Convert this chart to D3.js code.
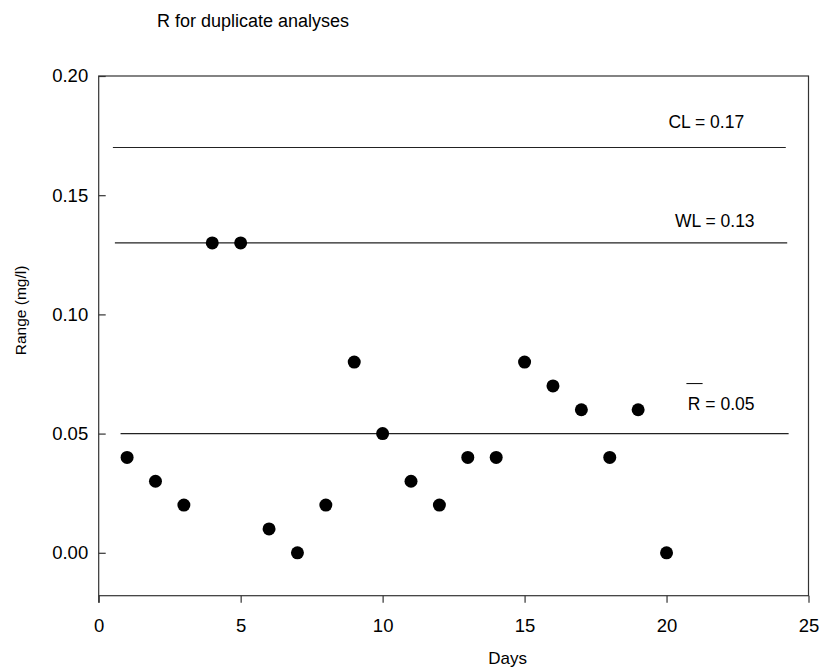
<!DOCTYPE html>
<html>
<head>
<meta charset="utf-8">
<script src="https://cdn.jsdelivr.net/npm/d3@7"></script>
<style>
  body { margin: 0; background: #fff; }
  svg { display: block; font-family: "Liberation Sans", Arial, sans-serif; }
</style>
</head>
<body>
<div id="chart"></div>
<script>
// Data
const days = [1, 2, 3, 4, 5, 6, 7, 8, 9, 10, 11, 12, 13, 14, 15, 16, 17, 18, 19, 20];
const ranges = [0.04, 0.03, 0.02, 0.13, 0.13, 0.01, 0.00, 0.02, 0.08, 0.05,
                0.03, 0.02, 0.04, 0.04, 0.08, 0.07, 0.06, 0.04, 0.06, 0.00];

// Control lines (name, value, x-extent in days)
const limitNames = ['CL', 'WL', 'R'];
const limitValues = [0.17, 0.13, 0.05];
const limitFrom = [0.5, 0.57, 0.77];
const limitTo = [24.2, 24.25, 24.3];

const xTicks = [0, 5, 10, 15, 20, 25];
const yTicks = [0.00, 0.05, 0.10, 0.15, 0.20];

const width = 820, height = 667;
const margin = { top: 76, right: 11.5, bottom: 71.3, left: 98.7 };

const svg = d3.select('#chart')
    .append('svg')
    .attr('width', width)
    .attr('height', height);

const x = d3.scaleLinear()
    .domain([0, 25])
    .range([margin.left, width - margin.right]);

const y = d3.scaleLinear()
    .domain([-0.018, 0.20])
    .range([height - margin.bottom, margin.top]);

const axisColor = '#333';

// Frame
svg.append('rect')
    .attr('x', x(0))
    .attr('y', y(0.20))
    .attr('width', x(25) - x(0))
    .attr('height', y(-0.018) - y(0.20))
    .attr('fill', 'none')
    .attr('stroke', axisColor)
    .attr('stroke-width', 1.2);

// X axis (ticks outward)
const xAxis = svg.append('g')
    .attr('transform', `translate(0,${y(-0.018)})`)
    .call(d3.axisBottom(x).tickValues(xTicks).tickFormat(d3.format('d')).tickSize(7).tickPadding(16));
xAxis.select('.domain').remove();
xAxis.selectAll('line').attr('stroke', axisColor).attr('stroke-width', 1.2);
xAxis.selectAll('text').attr('font-size', 18.5).attr('fill', '#000')
    .attr('font-family', '"Liberation Sans", Arial, sans-serif');

// Y axis (ticks inward)
const yAxis = svg.append('g')
    .attr('transform', `translate(${x(0)},0)`)
    .call(d3.axisLeft(y).tickValues(yTicks).tickFormat(d3.format('.2f')).tickSize(-7).tickPadding(10.5));
yAxis.select('.domain').remove();
yAxis.selectAll('line').attr('stroke', axisColor).attr('stroke-width', 1.2);
yAxis.selectAll('text').attr('font-size', 18.5).attr('fill', '#000')
    .attr('font-family', '"Liberation Sans", Arial, sans-serif');

// Small overhang of left axis below the frame
svg.append('line')
    .attr('x1', x(0)).attr('x2', x(0))
    .attr('y1', y(-0.018)).attr('y2', y(-0.018) + 7)
    .attr('stroke', axisColor).attr('stroke-width', 1.2);

// Control lines
svg.append('g')
    .selectAll('line')
    .data(limitValues)
    .enter()
    .append('line')
    .attr('x1', (d, i) => x(limitFrom[i]))
    .attr('x2', (d, i) => x(limitTo[i]))
    .attr('y1', d => y(d))
    .attr('y2', d => y(d))
    .attr('stroke', '#222')
    .attr('stroke-width', 1.1);

// Labels for control lines
const lab = svg.append('g').attr('font-size', 17.5).attr('fill', '#000');
lab.append('text')
    .attr('x', x(21.4)).attr('y', y(limitValues[0]) - 20)
    .attr('text-anchor', 'middle')
    .text(`${limitNames[0]} = ${limitValues[0].toFixed(2)}`);
lab.append('text')
    .attr('x', x(21.7)).attr('y', y(limitValues[1]) - 16)
    .attr('text-anchor', 'middle')
    .text(`${limitNames[1]} = ${limitValues[1].toFixed(2)}`);
lab.append('text')
    .attr('x', x(20.75)).attr('y', y(limitValues[2]) - 24)
    .text(`${limitNames[2]} = ${limitValues[2].toFixed(2)}`);
// bar over R
svg.append('line')
    .attr('x1', x(20.7)).attr('x2', x(21.27))
    .attr('y1', y(limitValues[2]) - 50).attr('y2', y(limitValues[2]) - 50)
    .attr('stroke', '#000').attr('stroke-width', 1);

// Data points
svg.append('g')
    .selectAll('circle')
    .data(days)
    .enter()
    .append('circle')
    .attr('cx', d => x(d))
    .attr('cy', (d, i) => y(ranges[i]))
    .attr('r', 6.5)
    .attr('fill', '#000');

// Titles
svg.append('text')
    .attr('x', 253).attr('y', 27)
    .attr('text-anchor', 'middle')
    .attr('font-size', 18)
    .text('R for duplicate analyses');

svg.append('text')
    .attr('x', x(14.4)).attr('y', 664)
    .attr('text-anchor', 'middle')
    .attr('font-size', 17)
    .text('Days');

svg.append('text')
    .attr('transform', `translate(26,${y(0.1) - 4}) rotate(-90)`)
    .attr('text-anchor', 'middle')
    .attr('font-size', 15.5)
    .text('Range (mg/l)');
</script>
</body>
</html>
